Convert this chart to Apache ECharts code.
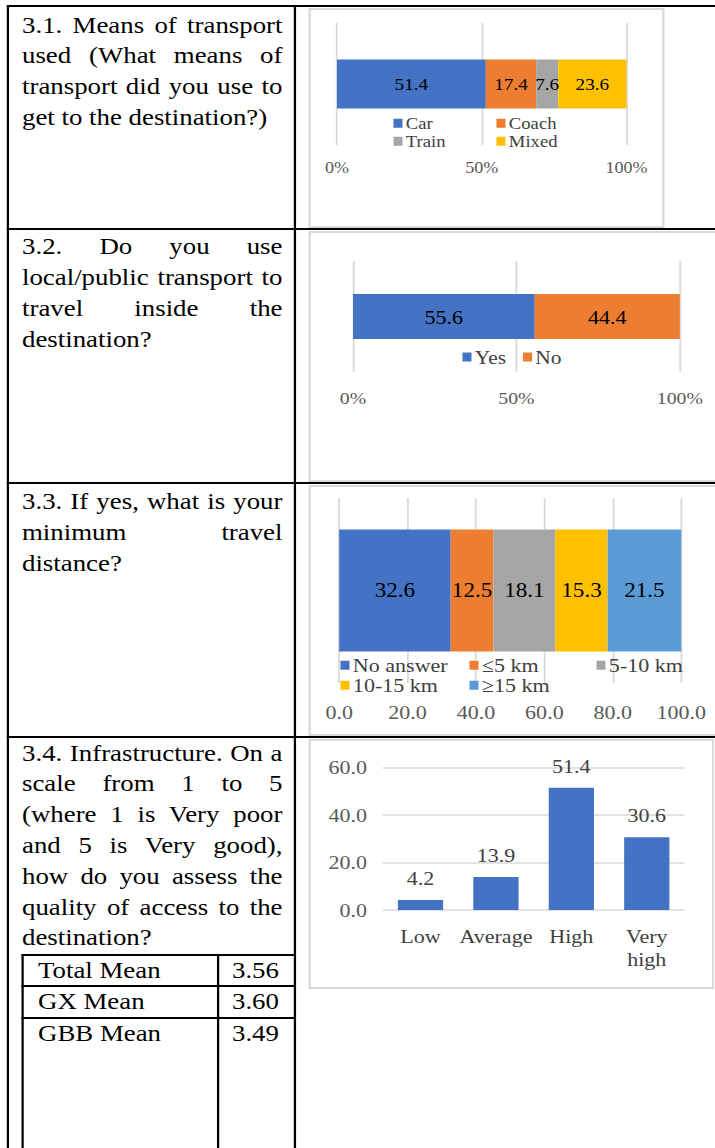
<!DOCTYPE html>
<html>
<head>
<meta charset="utf-8">
<script src="https://cdn.jsdelivr.net/npm/echarts@6/dist/echarts.min.js"></script>
<style>
  html, body { margin: 0; padding: 0; background: #fff; overflow: hidden; }
  #page {
    position: absolute; left: 0; top: 0; width: 633px; height: 1148px;
    transform: scaleX(1.13); transform-origin: 0 0;
    font-family: "Liberation Serif", "Times New Roman", serif; color: #000;
  }
</style>
</head>
<body>
<div id="page"></div>
<script>
// data
const transportCats = ['Car', 'Coach', 'Train', 'Mixed'];
const transportVals = [51.4, 17.4, 7.6, 23.6];
const localCats = ['Yes', 'No'];
const localVals = [55.6, 44.4];
const distCats = ['No answer', '≤5 km', '5-10 km', '10-15 km', '≥15 km'];
const distVals = [32.6, 12.5, 18.1, 15.3, 21.5];
const ratingCats = ['Low', 'Average', 'High', 'Very\nhigh'];
const ratingVals = [4.2, 13.9, 51.4, 30.6];
const meanNames = ['Total Mean', 'GX Mean', 'GBB Mean'];
const meanVals = ['3.56', '3.60', '3.49'];
const questions = [
  '3.1. Means of transport used (What means of transport did you use to get to the destination?)',
  '3.2. Do you use local/public transport to travel inside the destination?',
  '3.3. If yes, what is your minimum travel distance?',
  '3.4. Infrastructure. On a scale from 1 to 5 (where 1 is Very poor and 5 is Very good), how do you assess the quality of access to the destination?'
];

const S = 1.13; // the source image is stretched horizontally
const FAM = '"Liberation Serif", "Times New Roman", serif';
const COLORS = ['#4472C4', '#ED7D31', '#A5A5A5', '#FFC000', '#5B9BD5'];
const page = document.getElementById('page');

// place a div using page (screen) coordinates
function box(x, y, w, h, css) {
  const d = document.createElement('div');
  d.style.cssText = 'position:absolute;left:' + (x / S) + 'px;top:' + y + 'px;width:' + (w / S) + 'px;height:' + h + 'px;' + (css || '');
  page.appendChild(d);
  return d;
}

// table lines
const black = 'background:#000;';
box(7, 5, 708, 2, black);
box(7, 5, 2, 1143, black);
box(294, 5, 2, 1143, black);
box(7, 228, 708, 2, black);
box(7, 482, 708, 2, black);
box(7, 736, 708, 2, black);
// inner table of means
box(22, 954, 274, 2, black);
box(22, 985, 274, 2, black);
box(22, 1017, 274, 2, black);
box(22, 954, 2, 194, black);
box(217, 954, 2, 194, black);

// question texts
const qTops = [9.6, 231.3, 486.3, 737.6];
questions.forEach(function (t, i) {
  const d = box(22, qTops[i], 260.5, 220, 'font-size:23.75px;line-height:30.8px;text-align:justify;');
  d.textContent = t;
});
meanNames.forEach(function (n, i) {
  const y = [955, 986, 1018][i];
  box(38, y, 170, 31, 'font-size:23.75px;line-height:31px;').textContent = n;
  box(232, y, 60, 31, 'font-size:23.75px;line-height:31px;').textContent = meanVals[i];
});

function frame(x, y, w, h) {
  box(x, y, w, h, 'box-sizing:border-box;border:2px solid #d9d9d9;');
  return echarts.init(box(x, y, w, h), null, { renderer: 'svg' });
}

function legendAt(name, x, cy, x0, y0, fs) {
  return {
    data: [name], left: (x - x0) / S, top: cy - y0 - fs / 2, padding: 0,
    icon: 'rect', itemWidth: 9 / S, itemHeight: 9, itemGap: 0,
    textStyle: { fontFamily: FAM, fontSize: fs, lineHeight: fs, color: '#404040', padding: [0, 0, 0, -2] }
  };
}

// 100% stacked horizontal bar
function stacked(c) {
  const chart = frame(c.x0, c.y0, c.w, c.h);
  chart.setOption({
    animation: false,
    grid: { left: (c.gl - c.x0) / S, top: c.gt - c.y0, width: (c.gr - c.gl) / S, height: c.gb - c.gt },
    xAxis: {
      type: 'value', min: 0, max: 100, interval: c.interval,
      axisLine: { show: false }, axisTick: { show: false },
      splitLine: { lineStyle: { color: '#d9d9d9', width: 1.6 } },
      axisLabel: { formatter: c.fmt, fontFamily: FAM, fontSize: c.fsAxis, color: '#595959', margin: c.margin }
    },
    yAxis: { type: 'category', data: ['all'], show: false },
    legend: c.legends.map(function (l) { return legendAt(l[0], l[1], l[2], c.x0, c.y0, c.fsLegend); }),
    series: c.cats.map(function (name, i) {
      return {
        name: name, type: 'bar', stack: 'total', barWidth: c.barH, data: [c.vals[i]],
        itemStyle: { color: COLORS[i] },
        label: { show: true, position: 'inside', fontFamily: FAM, fontSize: c.fsLabel, color: '#000' }
      };
    })
  });
}

stacked({
  x0: 309, y0: 8, w: 356, h: 220, gl: 337.5, gr: 627, gt: 23, gb: 145,
  cats: transportCats, vals: transportVals, barH: 49,
  fsLabel: 17, fsLegend: 16.5, fsAxis: 16, margin: 15, interval: 50,
  fmt: '{value}%',
  legends: [['Car', 394, 123], ['Coach', 497, 123], ['Train', 394, 141], ['Mixed', 497, 141]]
});

stacked({
  x0: 309, y0: 231, w: 420, h: 251, gl: 353.5, gr: 680.4, gt: 261, gb: 372,
  cats: localCats, vals: localVals, barH: 45,
  fsLabel: 19.5, fsLegend: 19, fsAxis: 17.5, margin: 17, interval: 50,
  fmt: '{value}%',
  legends: [['Yes', 463, 357], ['No', 523.5, 357]]
});

stacked({
  x0: 309, y0: 485, w: 420, h: 251, gl: 339.7, gr: 681.7, gt: 498, gb: 683,
  cats: distCats, vals: distVals, barH: 122,
  fsLabel: 20.5, fsLegend: 19.5, fsAxis: 19.5, margin: 18.5, interval: 20,
  fmt: function (v) { return v.toFixed(1); },
  legends: [['No answer', 341, 665], ['≤5 km', 470, 665], ['5-10 km', 597, 665],
            ['10-15 km', 341, 685], ['≥15 km', 470, 685]]
});

// rating column chart
const x4 = 309, y4 = 739;
const c4 = frame(x4, y4, 405, 250);
c4.setOption({
  animation: false,
  grid: { left: (383.3 - x4) / S, top: 767.3 - y4, width: (685 - 383.3) / S, height: 910 - 767.3 },
  xAxis: {
    type: 'category', data: ratingCats,
    axisLine: { show: false }, axisTick: { show: false },
    axisLabel: { fontFamily: FAM, fontSize: 19.5, lineHeight: 23, color: '#404040', margin: 14, interval: 0 }
  },
  yAxis: {
    type: 'value', min: 0, max: 60, interval: 20,
    axisLine: { show: false }, axisTick: { show: false },
    splitLine: { lineStyle: { color: '#d9d9d9', width: 1.5 } },
    axisLabel: { formatter: function (v) { return v.toFixed(1); }, fontFamily: FAM, fontSize: 19.5, color: '#595959', margin: 14 }
  },
  series: [{
    type: 'bar', data: ratingVals, barCategoryGap: '40%',
    itemStyle: { color: COLORS[0] },
    label: { show: true, position: 'top', distance: 12, fontFamily: FAM, fontSize: 19.5, color: '#404040' }
  }]
});
</script>
</body>
</html>
